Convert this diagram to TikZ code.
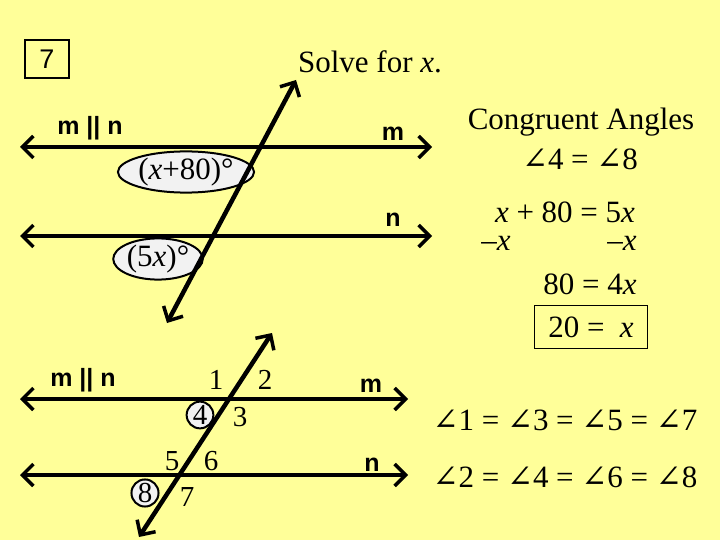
\documentclass[tikz,border=0pt]{standalone}
\usepackage{fontspec}
\setmainfont{Liberation Serif}
\newfontfamily\lsans{Liberation Sans}
\newfontfamily\djs{DejaVu Serif}
\newcommand{\ang}{{\djs ∠}}
\usetikzlibrary{arrows.meta,shapes.geometric}
\definecolor{bg}{HTML}{FFFF99}
\definecolor{ov}{HTML}{F2F2F2}
\begin{document}
\begin{tikzpicture}[x=1pt,y=-1pt,
  ln/.style={line width=4.5pt,{Straight Barb[length=11pt,width=22pt,line width=3.5pt]}-{Straight Barb[length=11pt,width=22pt,line width=3.5pt]}},
  lb/.style={font=\lsans\bfseries\fontsize{25}{27}\selectfont,inner sep=0},
  tx/.style={font=\fontsize{31}{33}\selectfont,inner sep=0},
  num/.style={font=\fontsize{29}{31}\selectfont,inner sep=0},
  circ/.style={num,circle,draw,line width=2pt,fill=ov,inner sep=1pt},
  ell/.style={tx,ellipse,draw,line width=2pt,fill=ov,inner sep=0.5pt}]
\fill[bg] (0,0) rectangle (720,540);
\useasboundingbox (0,0) rectangle (720,540);
\node[draw,line width=1.5pt,minimum width=44,minimum height=38,font=\lsans\fontsize{27}{29}\selectfont] (seven) at (47,59) {7};
\node[tx] (solve) at (370,62) {Solve for \textit{x}.};
% top diagram
\coordinate (m1) at (20,147); \coordinate (m2) at (432,147);
\coordinate (n1) at (20,236); \coordinate (n2) at (432,236);
\coordinate (t1) at (296,80); \coordinate (t2) at (167,323);
\node[ell] (e1) at (186,172) {(\textit{x}+80)°};
\node[ell] (e2) at (158,259) {(5\textit{x})°};
\draw[ln] (m1) -- (m2);
\draw[ln] (n1) -- (n2);
\draw[ln] (t2) -- (t1);
\node[lb] (mn1) at (90,128) {m || n};
\node[lb] (lm1) at (393,134) {m};
\node[lb] (ln1) at (393,220) {n};
% bottom diagram
\coordinate (bm1) at (20,399); \coordinate (bm2) at (408,399);
\coordinate (bn1) at (20,475); \coordinate (bn2) at (408,475);
\coordinate (bt1) at (272,333); \coordinate (bt2) at (139,537);
\node[circ] (c4) at (200,415) {4};
\node[circ] (c8) at (145,493) {8};
\draw[ln] (bm1) -- (bm2);
\draw[ln] (bn1) -- (bn2);
\draw[ln] (bt2) -- (bt1);
\node[lb] (mn2) at (83,380) {m || n};
\node[lb] (lm2) at (371,386) {m};
\node[lb] (ln2) at (372,465) {n};
\node[num] (a1) at (216,380) {1};
\node[num] (a2) at (265,380) {2};
\node[num] (a3) at (240,417) {3};
\node[num] (a5) at (172,461) {5};
\node[num] (a6) at (211,461) {6};
\node[num] (a7) at (187,497) {7};
% right text
\node[tx] (ca) at (581,122) {Congruent Angles};
\node[tx] (eq0) at (580,159) {\ang4 = \ang8};
\node[tx] (eq1) at (565,212) {\textit{x} + 80 = 5\textit{x}};
\node[tx] (mx1) at (496,243) {–\textit{x}};
\node[tx] (mx2) at (622,243) {–\textit{x}};
\node[tx] (eq2) at (590,284) {80 = 4\textit{x}};
\node[tx,draw,line width=1.5pt,minimum width=113,minimum height=43] (eq3) at (591,327) {20 = \ \textit{x}};
\node[tx] (r1) at (565,420) {\ang1 = \ang3 = \ang5 = \ang7};
\node[tx] (r2) at (565,477) {\ang2 = \ang4 = \ang6 = \ang8};
\end{tikzpicture}
\end{document}
